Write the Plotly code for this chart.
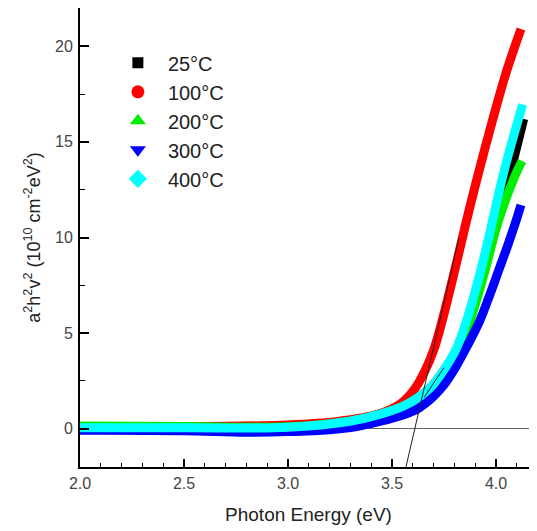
import plotly.graph_objects as go

# ---- data ----
labels = ["25°C", "100°C", "200°C", "300°C", "400°C"]
colors = ["#000000", "#ff0000", "#00ee00", "#0000ff", "#00ffff"]
symbols = ["square", "circle", "triangle-up", "triangle-down", "diamond"]

x_25 = [2.0, 2.5, 3.0, 3.29, 3.44, 3.57, 3.68, 3.76, 3.81, 3.86, 3.92, 3.97, 4.04, 4.07, 4.133]
y_25 = [0.05, 0.05, 0.08, 0.38, 0.75, 1.27, 2.1, 3.2, 4.1, 5.5, 7.8, 9.9, 12.2, 13.45, 16.2]

x_100 = [2.0, 2.5, 3.0, 3.24, 3.43, 3.54, 3.61, 3.655, 3.70, 3.74, 3.80, 3.857, 3.914, 3.985, 4.048, 4.12]
y_100 = [0.1, 0.1, 0.2, 0.38, 0.75, 1.3, 2.1, 2.95, 4.1, 5.6, 8.22, 10.83, 13.3, 16.2, 18.6, 20.9]

x_200 = [2.0, 2.5, 3.0, 3.29, 3.44, 3.57, 3.68, 3.76, 3.81, 3.87, 3.945, 4.01, 4.09, 4.125]
y_200 = [0.14, 0.12, 0.1, 0.38, 0.75, 1.27, 2.1, 3.2, 4.1, 5.5, 8.2, 10.83, 13.2, 14.0]

x_300 = [2.0, 2.1, 2.5, 2.8, 3.0, 3.2, 3.33, 3.44, 3.56, 3.62, 3.66, 3.70, 3.75, 3.81, 3.86, 3.92, 3.97, 4.01, 4.06, 4.095, 4.12]
y_300 = [-0.08, -0.08, -0.1, -0.18, -0.15, -0.05, 0.12, 0.38, 0.75, 1.02, 1.32, 1.7, 2.3, 3.3, 4.3, 5.6, 7.0, 8.2, 9.7, 10.83, 11.7]

x_400 = [2.0, 2.5, 3.0, 3.29, 3.44, 3.57, 3.68, 3.76, 3.81, 3.857, 3.92, 3.967, 4.038, 4.128]
y_400 = [0.05, 0.05, 0.08, 0.38, 0.75, 1.27, 2.1, 3.26, 4.2, 5.6, 8.0, 10.1, 13.45, 16.95]

tangent1_x = [3.567, 3.822]
tangent1_y = [-2.0, 10.0]
tangent2_x = [3.655, 3.75]
tangent2_y = [1.65, 3.2]

x_ticks = [2.0, 2.5, 3.0, 3.5, 4.0]
x_ticklabels = ["2.0", "2.5", "3.0", "3.5", "4.0"]
y_ticks = [0, 5, 10, 15, 20]
y_ticklabels = ["0", "5", "10", "15", "20"]

series_x = [x_25, x_100, x_200, x_300, x_400]
series_y = [y_25, y_100, y_200, y_300, y_400]
marker_sizes = [11, 13, 14, 14, 14]

FONT = "Liberation Sans, Arial, sans-serif"

fig = go.Figure()

for xs, ys, c in zip(series_x, series_y, colors):
    fig.add_trace(go.Scatter(x=xs, y=ys, mode="lines", line=dict(color=c, width=9, shape="spline", smoothing=1.0),
                             showlegend=False, hoverinfo="skip"))

fig.add_trace(go.Scatter(x=tangent1_x, y=tangent1_y, mode="lines", line=dict(color="#222222", width=1),
                         showlegend=False, hoverinfo="skip"))
fig.add_trace(go.Scatter(x=tangent2_x, y=tangent2_y, mode="lines", line=dict(color="#222222", width=1),
                         showlegend=False, hoverinfo="skip"))

for i, (lab, c, s, ms) in enumerate(zip(labels, colors, symbols, marker_sizes)):
    fig.add_trace(go.Scatter(x=[None], y=[None], mode="markers", name=lab, legendgroup="g%d" % i,
                             marker=dict(color=c, symbol=s, size=ms, line=dict(width=0))))

# the page body adds an 8px offset, so margins are shifted accordingly
fig.update_layout(
    width=537, height=531,
    margin=dict(l=72, r=8, t=0, b=72),
    paper_bgcolor="white", plot_bgcolor="white",
    font=dict(family=FONT, color="#333333"),
    legend=dict(x=0.061, y=0.923, xanchor="left", yanchor="top", bgcolor="rgba(0,0,0,0)",
                font=dict(size=20, color="#222222"), tracegroupgap=0, itemwidth=50),
)

fig.update_xaxes(
    range=[2.0, 4.197], showgrid=False, zeroline=False, automargin=False,
    showline=True, linecolor="black", linewidth=2, mirror=True,
    ticks="inside", ticklen=8, tickwidth=1.5, tickcolor="black",
    tickvals=x_ticks, ticktext=x_ticklabels, tickfont=dict(size=16, color="#444444"),
    ticklabelstandoff=1,
    minor=dict(dtick=0.1, ticks="inside", ticklen=4, tickwidth=1.2, tickcolor="black"),
    title=dict(text="Photon Energy (eV)", font=dict(size=19, color="#222222"), standoff=16),
    layer="above traces",
)
fig.update_yaxes(
    range=[-2, 22], showgrid=False, automargin=False,
    zeroline=True, zerolinecolor="#666666", zerolinewidth=1,
    showline=True, linecolor="black", linewidth=2, mirror=False,
    ticks="inside", ticklen=9, tickwidth=1.5, tickcolor="black",
    tickvals=y_ticks, ticktext=y_ticklabels, tickfont=dict(size=16, color="#444444"),
    ticklabelstandoff=2,
    minor=dict(dtick=2.5, ticks="inside", ticklen=5, tickwidth=1.2, tickcolor="black"),
    title=dict(text="a<sup>2</sup>h<sup>2</sup>v<sup>2</sup> (10<sup>10</sup> cm<sup>-2</sup>eV<sup>2</sup>)",
               font=dict(size=18, color="#222222"), standoff=10),
    layer="above traces",
)

fig.write_html("out.html")
